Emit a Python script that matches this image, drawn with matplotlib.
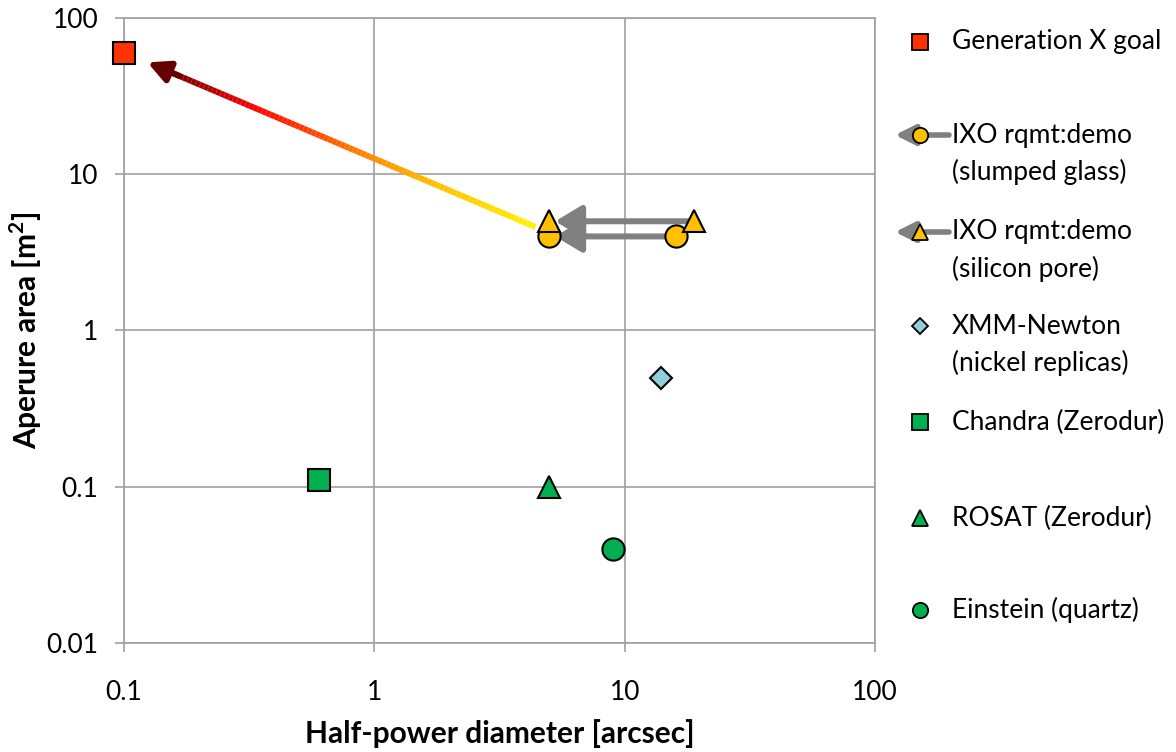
import numpy as np
import matplotlib.pyplot as plt
from matplotlib.collections import LineCollection
from matplotlib.colors import LinearSegmentedColormap

plt.rcParams['font.family'] = ['Lato', 'DejaVu Sans']

# half-power diameter [arcsec] vs aperture area [m^2]
genx_hpd = [0.1]
genx_area = [60]

# IXO: demo -> requirement
ixo_glass_hpd = [16, 5]
ixo_glass_area = [4, 4]
ixo_si_hpd = [19, 5]
ixo_si_area = [5, 5]

xmm_hpd = [14]
xmm_area = [0.5]
chandra_hpd = [0.6]
chandra_area = [0.11]
rosat_hpd = [5]
rosat_area = [0.1]
einstein_hpd = [9]
einstein_area = [0.04]

# path of the coloured arrow, IXO requirement -> Generation X goal
goal_hpd = [4.4, 0.124]
goal_area = [4.6, 52]

xticks = [0.1, 1, 10, 100]
xticklabels = ['0.1', '1', '10', '100']
yticks = [0.01, 0.1, 1, 10, 100]
yticklabels = ['0.01', '0.1', '1', '10', '100']

legend_labels = [
    ['Generation X goal'],
    ['IXO rqmt:demo', '(slumped glass)'],
    ['IXO rqmt:demo', '(silicon pore)'],
    ['XMM-Newton', '(nickel replicas)'],
    ['Chandra (Zerodur)'],
    ['ROSAT (Zerodur)'],
    ['Einstein (quartz)'],
]

GRID = '#a0a0a0'
ARROW_GREY = '#808080'
YELLOW = '#ffc000'
GREEN = '#00b050'

fig = plt.figure(figsize=(11.76, 7.52), dpi=100)
ax = fig.add_axes([124 / 1176, 1 - 643 / 752, (875 - 124) / 1176, (643 - 18) / 752])
ax.set_xscale('log')
ax.set_yscale('log')
ax.set_xlim(0.1, 100)
ax.set_ylim(0.01, 100)

ax.grid(True, color=GRID, lw=1.2)
ax.set_axisbelow(True)
for s in ax.spines.values():
    s.set_color(GRID)
    s.set_linewidth(1.2)
ax.set_xticks(xticks)
ax.set_xticklabels(xticklabels)
ax.set_yticks(yticks)
ax.set_yticklabels(yticklabels)
ax.minorticks_off()
ax.tick_params(axis='both', colors=GRID, length=6.5, width=1.2, labelsize=19,
               labelcolor='black')
ax.tick_params(axis='x', pad=20)
ax.tick_params(axis='y', pad=12)

ax.set_xlabel('Half-power diameter [arcsec]', fontsize=21.5, fontweight='bold', labelpad=10)
ax.set_ylabel('Aperure area [m$^\\mathregular{2}$]', fontsize=21.5, fontweight='bold', labelpad=2)

# gradient arrow body
cmap = LinearSegmentedColormap.from_list(
    'goal', [(0, '#fff200'), (0.25, '#ffc000'), (0.42, '#ff8c00'),
             (0.72, '#ff0000'), (0.9, '#8a0000'), (1, '#650000')])
lx = np.log10(goal_hpd)
ly = np.log10(goal_area)
t = np.linspace(0, 0.95, 90)
px = 10 ** (lx[0] + t * (lx[1] - lx[0]))
py = 10 ** (ly[0] + t * (ly[1] - ly[0]))
pts = np.column_stack([px, py]).reshape(-1, 1, 2)
segs = np.concatenate([pts[:-1], pts[1:]], axis=1)
lc = LineCollection(segs, colors=cmap(t[:-1]), linewidths=4.3, capstyle='butt', zorder=3)
ax.add_collection(lc)
ax.annotate('', xy=(goal_hpd[1], goal_area[1]), xytext=(px[-4], py[-4]),
            arrowprops=dict(arrowstyle='-|>,head_length=1.0,head_width=0.5', mutation_scale=13,
                            color='#650000', lw=4.3, shrinkA=0, shrinkB=0), zorder=3)

# grey rqmt:demo arrows
for hpd, area in [(ixo_glass_hpd, ixo_glass_area), (ixo_si_hpd, ixo_si_area)]:
    ax.annotate('', xy=(hpd[1] * 1.055, area[1]), xytext=(hpd[0], area[0]),
                arrowprops=dict(arrowstyle='-|>,head_length=1.0,head_width=0.6', mutation_scale=16,
                                color=ARROW_GREY, lw=4.3, shrinkA=0, shrinkB=0), zorder=3)

mk = dict(ls='none', mec='black', mew=1.5, zorder=5, clip_on=False)
ax.plot(genx_hpd, genx_area, marker='s', ms=16, mfc='#ff3300', **mk)
ax.plot(ixo_glass_hpd, ixo_glass_area, marker='o', ms=16, mfc=YELLOW, **mk)
ax.plot(ixo_si_hpd, ixo_si_area, marker='^', ms=16, mfc=YELLOW, **mk)
ax.plot(xmm_hpd, xmm_area, marker='D', ms=11.5, mfc='#92cddc', **mk)
ax.plot(chandra_hpd, chandra_area, marker='s', ms=16, mfc=GREEN, **mk)
ax.plot(rosat_hpd, rosat_area, marker='^', ms=16, mfc=GREEN, **mk)
ax.plot(einstein_hpd, einstein_area, marker='o', ms=16, mfc=GREEN, **mk)

# legend drawn by hand in figure pixels
lax = fig.add_axes([0, 0, 1, 1])
lax.set_xlim(0, 1176)
lax.set_ylim(752, 0)
lax.axis('off')
rows = [42, 135, 232, 326, 422, 518, 610]
styles = [
    dict(marker='s', ms=11, mfc='#ff3300'),
    dict(marker='o', ms=11, mfc=YELLOW),
    dict(marker='^', ms=11, mfc=YELLOW),
    dict(marker='D', ms=8, mfc='#92cddc'),
    dict(marker='s', ms=11, mfc=GREEN),
    dict(marker='^', ms=11, mfc=GREEN),
    dict(marker='o', ms=11, mfc=GREEN),
]
for i, (y, lab, st) in enumerate(zip(rows, legend_labels, styles)):
    if i in (1, 2):
        lax.annotate('', xy=(895, y), xytext=(949, y),
                     arrowprops=dict(arrowstyle='-|>,head_length=1.0,head_width=0.5', mutation_scale=12,
                                     color=ARROW_GREY, lw=4, shrinkA=0, shrinkB=0), zorder=2)
    lax.plot([920], [y], ls='none', mec='black', mew=1.3, zorder=5, **st)
    for j, line in enumerate(lab):
        lax.text(952, y + j * 37, line, fontsize=19, va='center', ha='left')

fig.savefig('out.png', dpi=100)
